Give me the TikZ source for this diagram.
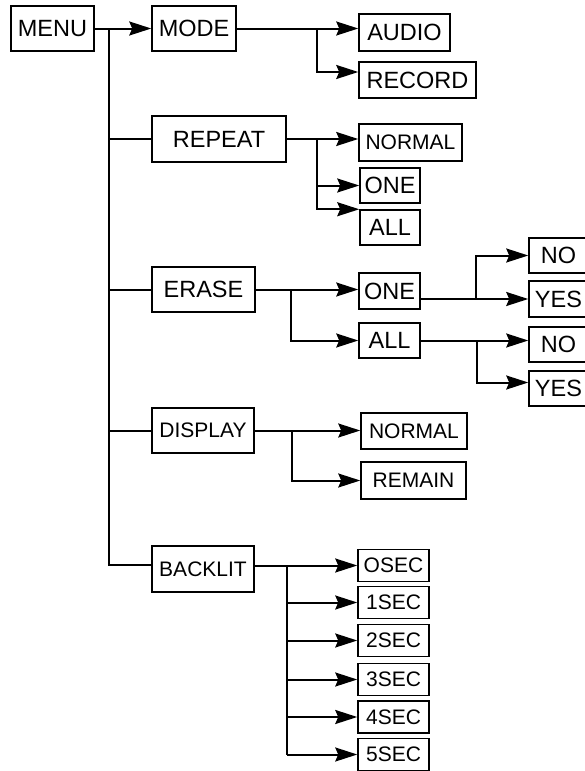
\documentclass[tikz,border=0pt]{standalone}
\usepackage{fontspec}
\setmainfont{Liberation Sans}
\usetikzlibrary{arrows.meta,positioning,calc}
\newcommand{\bigtxt}{\fontsize{23.5}{25}\selectfont}
\newcommand{\smalltxt}{\fontsize{21}{23}\selectfont}

\begin{document}
\begin{tikzpicture}[x=1pt,y=-1pt,
    box/.style={draw,line width=1.5pt,inner sep=0pt,font=\bigtxt},
    smallbox/.style={box,font=\smalltxt},
    link/.style={line width=2pt},
    arr/.style={link,-{Stealth[length=22pt,width=14pt,inset=3pt]}}]
    \useasboundingbox (0,0) rectangle (585,771);

    % Root menu and the first level
    \node[box,minimum width=83pt,minimum height=45pt] (menu) at (52.5,28.5) {MENU};
    \node[box,minimum width=84pt,minimum height=45pt] (mode) at (194,28.5) {MODE};
    \node[box,minimum width=134pt,minimum height=46pt] (repeat) at (219,139) {REPEAT};
    \node[box,minimum width=103pt,minimum height=45pt] (erase) at (203.5,289.5) {ERASE};
    \node[smallbox,minimum width=102pt,minimum height=45pt] (display) at (203,430.5) {DISPLAY};
    \node[smallbox,minimum width=102pt,minimum height=46pt] (backlit) at (203,569) {BACKLIT};

    % Trunk from MENU
    \coordinate (tk) at (109,0);
    \draw[arr] (menu) -- (mode);
    \draw[link] (tk |- menu) |- ([yshift=4pt]backlit.west);
    \draw[link] (tk |- repeat) -- (repeat.west);
    \draw[link] (tk |- erase) -- (erase.west);
    \draw[link] (tk |- display) -- (display.west);

    % MODE
    \node[box,minimum width=91pt,minimum height=37pt] (audio) at (404.5,32.5) {AUDIO};
    \node[box,minimum width=117pt,minimum height=36pt] (record) at (417.5,80) {RECORD};
    \coordinate (jmode) at (317,0);
    \draw[arr] (mode.east) -- (audio.west |- mode);
    \draw[arr] (jmode |- mode) |- ([yshift=8pt]record.west);

    % REPEAT
    \node[smallbox,minimum width=103pt,minimum height=37pt] (rnormal) at (410.5,142.5) {NORMAL};
    \node[box,minimum width=60pt,minimum height=35pt] (rone) at (390,185.5) {ONE};
    \node[box,minimum width=60pt,minimum height=35pt] (rall) at (390,227.5) {ALL};
    \coordinate (jrep) at (317,0);
    \draw[arr] (repeat.east) -- (rnormal.west |- repeat);
    \draw[arr] (jrep |- repeat) |- (rone.west);
    \draw[arr] (jrep |- repeat) |- (rall.north west);

    % ERASE
    \node[box,minimum width=61pt,minimum height=36pt] (eone) at (389.5,291) {ONE};
    \node[box,minimum width=61pt,minimum height=35pt] (eall) at (389.5,340.5) {ALL};
    \coordinate (jera) at (291,0);
    \draw[arr] (erase.east) -- (eone.west |- erase);
    \draw[arr] (jera |- erase) |- (eall.west);

    % yes / no after ONE and ALL
    \node[box,minimum width=59pt,minimum height=35pt] (ono) at (558.5,255.5) {NO};
    \node[box,minimum width=59pt,minimum height=36pt] (oyes) at (558.5,299) {YES};
    \node[box,minimum width=59pt,minimum height=35pt] (ano) at (558.5,344.5) {NO};
    \node[box,minimum width=59pt,minimum height=35pt] (ayes) at (558.5,388.5) {YES};
    \coordinate (jone) at (476,0);
    \coordinate (jall) at (477,0);
    \draw[arr] (eone.east |- oyes) -- (oyes.west);
    \draw[arr] (jone |- oyes) |- (ono.west);
    \draw[arr] (eall.east) -- (ano.west |- eall);
    \draw[arr] (jall |- eall) |- ([yshift=6pt]ayes.west);

    % DISPLAY
    \node[smallbox,minimum width=106pt,minimum height=36pt] (dnormal) at (414,431) {NORMAL};
    \node[smallbox,minimum width=105pt,minimum height=37pt] (remain) at (413.5,480.5) {REMAIN};
    \coordinate (jdis) at (292,0);
    \draw[arr] (display.east) -- (dnormal.west |- display);
    \draw[arr] (jdis |- display) |- (remain.west);

    % BACKLIT
    \coordinate (jbl) at (287,0);
    \foreach \i/\y/\t in {0/565.5/OSEC,1/602.5/1SEC,2/640.5/2SEC,3/679.5/3SEC,4/717/4SEC,5/754.5/5SEC}
        \node[smallbox,minimum width=71pt,minimum height=32pt] (s\i) at (393.5,\y) {\t};
    \draw[arr] (backlit.east |- s0) -- (s0.west);
    \draw[link] (jbl |- s0) -- (jbl |- s5);
    \foreach \i in {1,...,5}
        \draw[arr] (jbl |- s\i) -- (s\i.west);
\end{tikzpicture}
\end{document}
